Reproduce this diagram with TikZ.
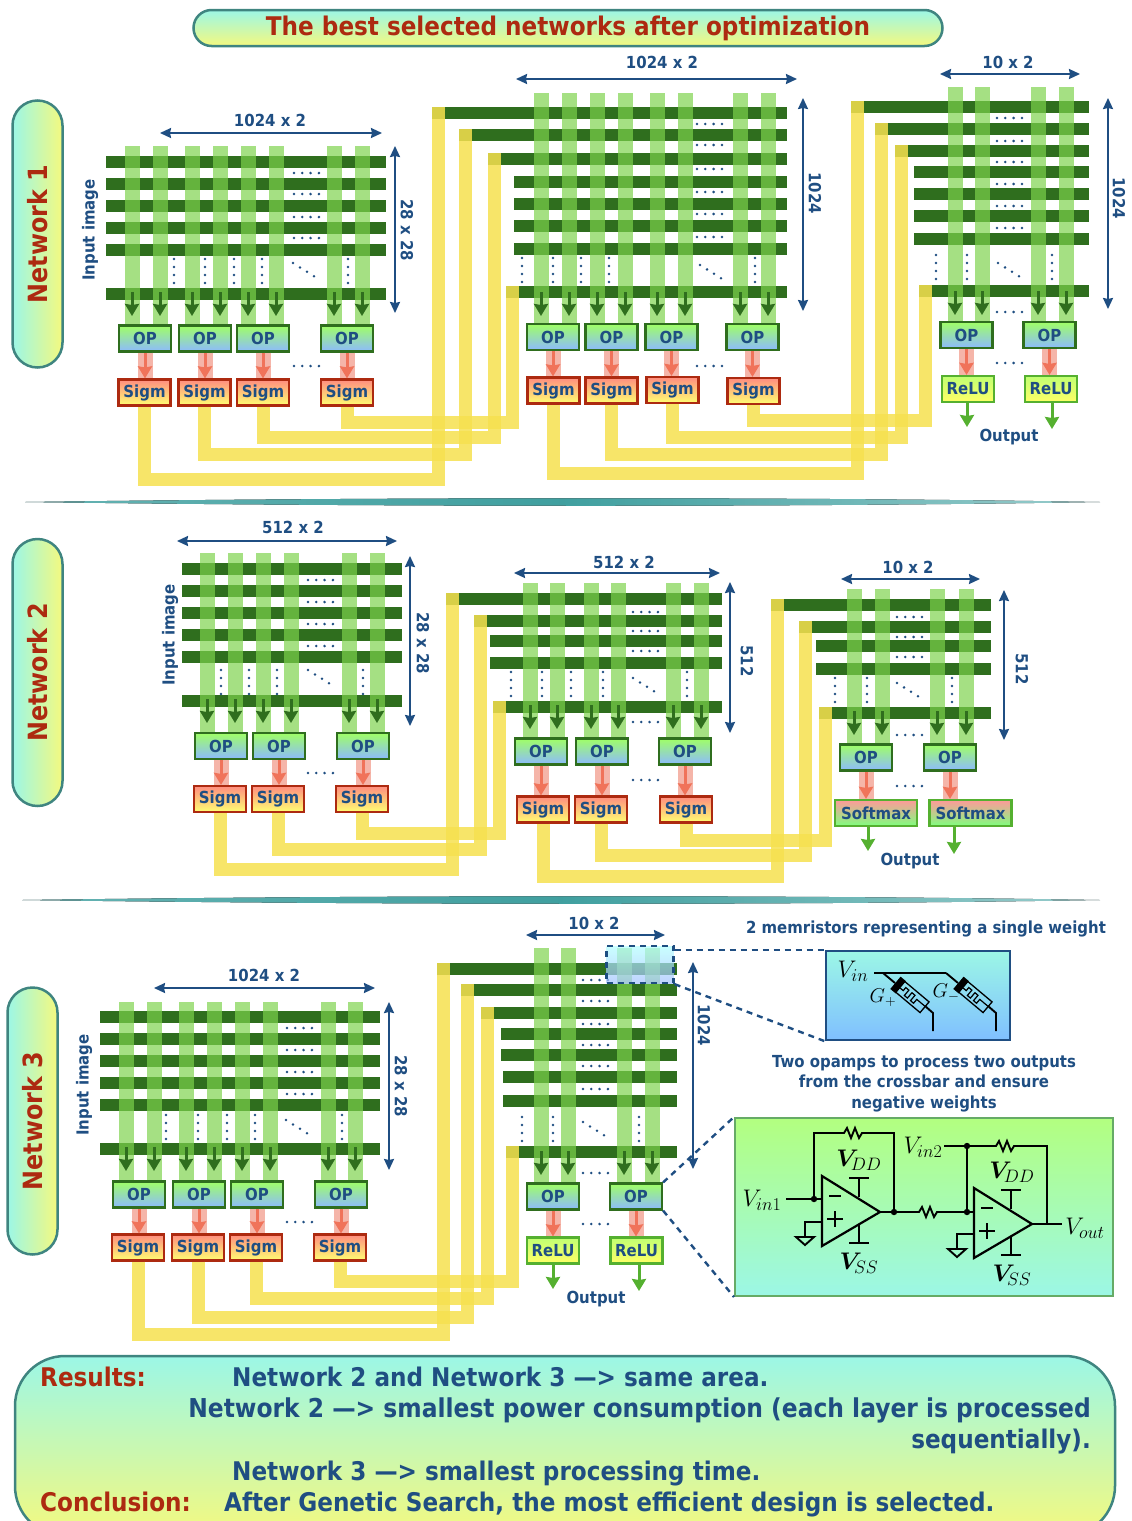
\documentclass[tikz,border=0pt]{standalone}
\usepackage{fix-cm}
\usepackage{fontspec}
\usepackage{amsmath}
\setmainfont{DejaVu Sans}[FakeStretch=0.9]
\DeclareMathSizes{24}{24}{18}{14}
\usetikzlibrary{arrows.meta, calc}
\definecolor{dimblue}{HTML}{1F4E82}
\definecolor{rowgreen}{HTML}{2F6E1E}
\definecolor{colgreen}{HTML}{7DD24C}
\definecolor{wireyel}{HTML}{F6E04F}
\definecolor{redtxt}{HTML}{AD2A10}
\definecolor{tealline}{HTML}{3F8580}
\definecolor{bandpink}{HTML}{F5B5A9}
\definecolor{arrpink}{HTML}{F0735A}
\definecolor{outgreen}{HTML}{55B030}
\definecolor{skycyan}{HTML}{9CF7E6}
\definecolor{softyel}{HTML}{F4F97F}
\newcommand{\sizefont}[1]{\fontsize{#1}{#1}\selectfont\bfseries}
\tikzset{
  rowbar/.style={fill=rowgreen, minimum height=11.5pt, inner sep=0pt, outer sep=0pt},
  colbar/.style={line width=15pt, draw=colgreen, opacity=0.69},
  dnarr/.style={-{Stealth[length=12pt,width=14pt,inset=1pt]}, line width=3pt, draw=rowgreen},
  band/.style={line width=15pt, draw=bandpink},
  pinkarr/.style={-{Stealth[length=12pt,width=14pt,inset=1pt]}, line width=3pt, draw=arrpink},
  outarr/.style={-{Stealth[length=12pt,width=14pt,inset=1pt]}, line width=3pt, draw=outgreen},
  wire/.style={line width=13pt, draw=wireyel, draw opacity=0.85},
  dimarr/.style={{Stealth[length=11pt,width=10pt,inset=1pt]}-{Stealth[length=11pt,width=10pt,inset=1pt]}, line width=2pt, draw=dimblue},
  dimlbl/.style={text=dimblue, font=\sizefont{16.6}, inner sep=0pt},
  bluebox/.style={draw=rowgreen, line width=2.2pt, minimum width=52pt, minimum height=26pt, inner sep=0pt, text=dimblue, font=\sizefont{16.6}},
  opbox/.style={bluebox, top color=green!50!lime!60!white, bottom color=cyan!40!blue!45!white},
  sigmbox/.style={bluebox, draw=redtxt, top color=orange!20!red!50!white, bottom color=yellow!55!white},
  relubox/.style={bluebox, draw=outgreen, top color=green!45!yellow!55!white, bottom color=yellow!60!white},
  softbox/.style={bluebox, minimum width=82pt, draw=outgreen, top color=red!40!white, bottom color=green!50!white},
  netbox/.style={draw=tealline, line width=2.5pt, minimum width=50pt, minimum height=267pt, rounded corners=25pt, inner sep=0pt,
    left color=skycyan, right color=softyel, text=redtxt, font=\sizefont{26.5}},
  leader/.style={draw=dimblue, line width=2.4pt, dash pattern=on 6pt off 5pt},
  ckt/.style={draw=black, line width=1.9pt},
  restext/.style={text=dimblue, font=\sizefont{25.7}, inner sep=0pt, anchor=base west},
  cktlbl/.style={inner sep=0pt, font=\fontsize{24}{24}\selectfont},
  zig/.style={insert path={-- ++(3,-5) -- ++(4,10) -- ++(4,-10) -- ++(4,10) -- ++(3,-5)}},
}
% rows of one crossbar: name, right end, list of y/left
\newcommand{\rowbars}[3]{
  \foreach \y/\l in {#3} {
    \node[rowbar, minimum width={(#2-\l)*1pt}, name=#1\y] at ({(#2+\l)/2},\y) {};
  }
}
% columns of one crossbar with their arrows
\newcommand{\colbars}[4]{
  \foreach \x in {#1} {
    \draw[colbar] (\x,#2) -- (\x,#3);
    \coordinate (ca) at (\x,#4);
    \coordinate (cb) at (\x,#4+24);
    \draw[dnarr] (ca) -- (cb);
  }
}
\newcommand{\rowdots}[2]{
  \foreach \y in {#2} { \foreach \i in {0,1,2,3} { \fill[dimblue] ({#1+\i*8.3},\y) circle (1.4pt); } }
}
\newcommand{\coldots}[2]{
  \foreach \x in {#1} { \foreach \i in {0,1,2,3} { \fill[dimblue] (\x,{#2+\i*8}) circle (1.4pt); } }
}
\newcommand{\diagdots}[2]{
  \foreach \i in {0,1,2,3} { \fill[dimblue] ({#1+\i*7},{#2+\i*4.4}) circle (1.4pt); }
}
\newcommand{\dimline}[5]{
  \coordinate (#1a) at (#2,#3);
  \coordinate (#1b) at (#4,#5);
  \draw[dimarr] (#1a) -- (#1b);
}
% one sigmoid output running to a row of the next crossbar
\newcommand{\feed}[3]{
  \coordinate (wt) at ($(#3.north west)+(6.5,0)$);
  \draw[wire] (#1.south) -- (#1.south |- 0,#2) -- (wt |- 0,#2) -- (wt);
}
% op box, box below it and the arrow between
\newcommand{\opunit}[7]{
  \node[opbox] (o#1) at (#2,#3) {OP};
  \node[#6] (s#1) at (#4,#5) {#7};
  \draw[band] (o#1.south) -- (o#1.south |- s#1.north);
  \draw[pinkarr] (o#1.south) -- (o#1.south |- s#1.north);
}
\newcommand{\memr}[2]{
  \draw[ckt] (#1,#2) -- ++(12,10);
  \draw[ckt] (#1+42,#2+33) -- ++(8,7) -- ++(0,18);
  \begin{scope}[shift={(#1+27,#2+22)}, rotate=-40]
    \draw[ckt, line width=1.3pt] (-13,-7) rectangle (19,7);
    \fill[black] (-19,-8) rectangle (-12,8);
    \draw[ckt, line width=1.2pt] (-12,1) -- (-8,1) -- (-8,-3) -- (-4,-3) -- (-4,4) -- (0,4) -- (0,-3) -- (4,-3) -- (4,4) -- (8,4) -- (8,-1) -- (19,-1);
  \end{scope}
}
\newcommand{\opamp}[2]{
  \draw[ckt, line width=2.2pt] (#1,#2) -- (#1+58,#2+36) -- (#1,#2+70) -- cycle;
  \draw[ckt] (#1+7,#2+20) -- (#1+19,#2+20);
  \draw[ckt] (#1+5,#2+43) -- (#1+21,#2+43) (#1+13,#2+35) -- (#1+13,#2+51);
  \draw[ckt] (#1+37,#2+21) -- (#1+37,#2+2) (#1+27,#2+2) -- (#1+47,#2+2);
  \draw[ckt] (#1+37,#2+49) -- (#1+37,#2+67) (#1+27,#2+67) -- (#1+47,#2+67);
  \draw[ckt] (#1,#2+46) -- (#1-17,#2+46) -- (#1-17,#2+61);
  \draw[ckt] (#1-26,#2+61) -- (#1-8,#2+61) -- (#1-17,#2+69) -- cycle;
}
\begin{document}
\begin{tikzpicture}[x=1pt, y=-1pt]
  \useasboundingbox (0,0) rectangle (1132,1521);

  % title
  \node[draw=tealline, line width=2.5pt, minimum width=749pt, minimum height=36pt, rounded corners=18pt, inner sep=0pt,
    top color=skycyan, bottom color=softyel, text=redtxt, font=\sizefont{25.7}] (title) at (568,28) {\raisebox{-4pt}{The best selected networks after optimization}};

  % side labels
  \node[netbox] (net1) at (37.5,234) {\rotatebox{90}{Network 1}};
  \node[netbox] (net2) at (37.5,672.5) {\rotatebox{90}{Network 2}};
  \node[netbox] (net3) at (32.5,1121) {\rotatebox{90}{Network 3}};

  % separators
  \fill[left color=teal!60, right color=teal!40, middle color=teal!75] (25,502) .. controls (400,497) and (800,497) .. (1100,502) .. controls (800,507) and (400,507) .. (25,502);
  \fill[left color=teal!60, right color=teal!40, middle color=teal!75] (22,900) .. controls (400,895) and (800,895) .. (1100,900) .. controls (800,905) and (400,905) .. (22,900);

  %%% network 1
  \rowbars{ra}{386}{162/106,184/106,206/106,228/106,250/106,294/106}
  \colbars{132,160,192,220,248,276,334,362}{146}{325}{292}
  \rowdots{294}{173,194,217,238,366}
  \coldots{174,205,234,262,348}{259}
  \diagdots{293}{263}
  \opunit{a1}{145}{338.5}{144.5}{392.5}{sigmbox}{Sigm}
  \opunit{a2}{205}{338.5}{204.5}{392.5}{sigmbox}{Sigm}
  \opunit{a3}{263}{338.5}{263}{392.5}{sigmbox}{Sigm}
  \opunit{a4}{347}{338.5}{347}{392.5}{sigmbox}{Sigm}
  \node[dimlbl] (la) at (270,120) {1024 x 2};
  \dimline{da}{160}{133}{382}{133}
  \dimline{va}{395}{146}{395}{313}
  \node[dimlbl, rotate=-90] (lva) at (407,230) {28 x 28};
  \node[dimlbl, rotate=90] (ina) at (90,230) {Input image};

  \rowbars{rb}{787}{113/432,135/459,159/488,182/514,204/514,226/514,249/514,292/506}
  \colbars{541,569,597,625,657,685,740,768}{93}{323}{292}
  \rowdots{697}{124,145,169,192,214,237,366}
  \coldots{522,553,581,609,755}{258}
  \diagdots{700}{265}
  \opunit{b1}{553}{337}{553.5}{390.5}{sigmbox}{Sigm}
  \opunit{b2}{611.5}{337}{611.5}{390.5}{sigmbox}{Sigm}
  \opunit{b3}{671.5}{337}{672.5}{390}{sigmbox}{Sigm}
  \opunit{b4}{752.5}{337}{753.5}{391}{sigmbox}{Sigm}
  \node[dimlbl] (lb) at (662,62) {1024 x 2};
  \dimline{db}{516}{79}{797}{79}
  \dimline{vb}{803}{98}{803}{311}
  \node[dimlbl, rotate=-90] (lvb) at (815,193) {1024};

  \rowbars{rc}{1089}{107/851,129/875,151/895,172/914,194/914,216/914,239/914,291/919}
  \colbars{955,982,1038,1066}{87}{321}{291}
  \rowdots{997}{118,141,162,184,206,228,312,363}
  \coldots{936,967,1052}{255}
  \diagdots{998}{263}
  \opunit{c1}{966.5}{335}{968}{389}{relubox}{ReLU}
  \opunit{c2}{1049.5}{335}{1051}{389}{relubox}{ReLU}
  \coordinate (ec1) at (967,427);
  \coordinate (ec2) at (1052,429);
  \draw[outarr] (sc1.south -| ec1) -- (ec1);
  \draw[outarr] (sc2.south -| ec2) -- (ec2);
  \node[dimlbl] (outc) at (1009,437) {Output};
  \node[dimlbl] (lc) at (1008,62) {10 x 2};
  \dimline{dc}{940}{74}{1080}{74}
  \dimline{vc}{1108}{98}{1108}{309}
  \node[dimlbl, rotate=-90] (lvc) at (1119,198) {1024};

  \feed{sa1}{479}{rb113}
  \feed{sa2}{454}{rb135}
  \feed{sa3}{437}{rb159}
  \feed{sa4}{422}{rb292}
  \feed{sb1}{473}{rc107}
  \feed{sb2}{454}{rc129}
  \feed{sb3}{437}{rc151}
  \feed{sb4}{420}{rc291}

  %%% network 2
  \rowbars{rd}{402}{569/182,591/182,613/182,635/182,657/182,701/182}
  \colbars{207,235,263,291,349,377}{553}{732}{699}
  \rowdots{308}{580,602,624,646,773}
  \coldots{221,249,277,363}{670}
  \diagdots{308}{670}
  \opunit{d1}{221}{746}{220}{799}{sigmbox}{Sigm}
  \opunit{d2}{279}{746}{278}{799}{sigmbox}{Sigm}
  \opunit{d3}{363}{746}{362}{799}{sigmbox}{Sigm}
  \node[dimlbl] (ld) at (293,527) {512 x 2};
  \dimline{dd}{177}{541}{397}{541}
  \dimline{vd}{410}{556}{410}{726}
  \node[dimlbl, rotate=-90] (lvd) at (423,643) {28 x 28};
  \node[dimlbl, rotate=90] (ind) at (170,635) {Input image};

  \rowbars{re}{722}{599/446,621/474,641/490,663/490,707/493}
  \colbars{530,557,591,618,673,701}{583}{738}{705}
  \rowdots{633}{612,631,651,722,780}
  \coldots{511,542,571,603,687}{672}
  \diagdots{633}{678}
  \opunit{e1}{541}{751.5}{543}{809.5}{sigmbox}{Sigm}
  \opunit{e2}{602}{751.5}{601}{809.5}{sigmbox}{Sigm}
  \opunit{e3}{685}{751.5}{686}{809.5}{sigmbox}{Sigm}
  \node[dimlbl] (le) at (624,562) {512 x 2};
  \dimline{de}{514}{573}{720}{573}
  \dimline{ve}{730}{582}{730}{733}
  \node[dimlbl, rotate=-90] (lve) at (747,661) {512};

  \rowbars{rf}{991}{605/771,627/799,646/816,669/816,713/819}
  \colbars{854,882,937,966}{589}{744}{711}
  \rowdots{897}{617,637,657,735,786}
  \coldots{835,867,952}{678}
  \diagdots{897}{683}
  \opunit{f1}{866}{757.5}{876}{813}{softbox}{Softmax}
  \opunit{f2}{950}{757.5}{970.5}{813}{softbox}{Softmax}
  \coordinate (ef1) at (868,851);
  \coordinate (ef2) at (954,854);
  \draw[outarr] (sf1.south -| ef1) -- (ef1);
  \draw[outarr] (sf2.south -| ef2) -- (ef2);
  \node[dimlbl] (outf) at (910,861) {Output};
  \node[dimlbl] (lf) at (908,567) {10 x 2};
  \dimline{df}{841}{579}{980}{579}
  \dimline{vf}{1004}{590}{1004}{740}
  \node[dimlbl, rotate=-90] (lvf) at (1022,669) {512};

  \feed{sd1}{869}{re599}
  \feed{sd2}{849}{re621}
  \feed{sd3}{833}{re707}
  \feed{se1}{876}{rf605}
  \feed{se2}{855}{rf627}
  \feed{se3}{840}{rf713}

  %%% network 3
  \rowbars{rg}{380}{1017/100,1039/100,1061/100,1083/100,1105/100,1149/100}
  \colbars{126,154,186,214,242,270,328,355}{1002}{1181}{1147}
  \rowdots{287}{1028,1050,1072,1094,1222}
  \coldots{166,198,227,255,342}{1115}
  \diagdots{286}{1120}
  \opunit{g1}{139}{1194.5}{138}{1247.5}{sigmbox}{Sigm}
  \opunit{g2}{199}{1194.5}{198}{1247.5}{sigmbox}{Sigm}
  \opunit{g3}{257}{1194.5}{256}{1247.5}{sigmbox}{Sigm}
  \opunit{g4}{341}{1194.5}{340}{1247.5}{sigmbox}{Sigm}
  \node[dimlbl] (lg) at (264,975) {1024 x 2};
  \dimline{dg}{154}{988}{375}{988}
  \dimline{vg}{389}{1002}{389}{1170}
  \node[dimlbl, rotate=-90] (lvg) at (401,1086) {28 x 28};
  \node[dimlbl, rotate=90] (ing) at (84,1085) {Input image};

  \rowbars{rh}{677}{969/437,990/461,1013/481,1034/501,1055/501,1077/503,1101/503,1152/506}
  \colbars{541,568,624,652}{948}{1183}{1151}
  \rowdots{583}{980,1001,1024,1045,1066,1089,1173,1224}
  \coldots{522,553,639}{1117}
  \diagdots{583}{1122}
  \opunit{h1}{553}{1196.5}{553}{1250.5}{relubox}{ReLU}
  \opunit{h2}{636}{1196.5}{636.5}{1250.5}{relubox}{ReLU}
  \coordinate (eh1) at (553,1289);
  \coordinate (eh2) at (639,1291);
  \draw[outarr] (sh1.south -| eh1) -- (eh1);
  \draw[outarr] (sh2.south -| eh2) -- (eh2);
  \node[dimlbl] (outh) at (596,1299) {Output};
  \node[dimlbl] (lh) at (594,923) {10 x 2};
  \dimline{dh}{526}{935}{665}{935}
  \dimline{vh}{693}{962}{693}{1169}
  \node[dimlbl, rotate=-90] (lvh) at (704,1025) {1024};

  \feed{sg1}{1334}{rh969}
  \feed{sg2}{1317}{rh990}
  \feed{sg3}{1298}{rh1013}
  \feed{sg4}{1281}{rh1152}

  % weight detail
  \node[draw=dimblue, line width=2.4pt, dash pattern=on 6pt off 5pt, minimum width=67pt, minimum height=37pt, inner sep=0pt,
    top color=cyan!30, bottom color=cyan!30!blue!35, fill opacity=0.7, draw opacity=1] (hl) at (640,964.5) {};
  \node[draw=dimblue, line width=2.4pt, minimum width=184pt, minimum height=89pt, inner sep=0pt,
    top color=skycyan, bottom color=cyan!50!blue!50!white] (mem) at (918,995.5) {};
  \node[dimlbl] (memt) at (926,929) {2 memristors representing a single weight};
  \draw[leader] (hl.east |- mem.north west) -- (mem.north west);
  \draw[leader] (hl.south east) -- (mem.south west);
  \draw[ckt] (874,973) -- (946,973);
  \memr{883}{973}
  \memr{946}{973}
  \node[cktlbl] (vin) at (853,971) {$V_{in}$};
  \node[cktlbl, font=\fontsize{20}{20}\selectfont] (gp) at (883,998) {$G_{+}$};
  \node[cktlbl, font=\fontsize{20}{20}\selectfont] (gm) at (946,993) {$G_{-}$};

  % opamp detail
  \node[dimlbl, align=center] (ampt) at (924,1083.5) {Two opamps to process two outputs\\[4pt] from the crossbar and ensure\\[4pt] negative weights};
  \node[draw=green!45!black!60, line width=2pt, minimum width=378pt, minimum height=178pt, inner sep=0pt,
    top color=green!60!yellow!50!white, bottom color=skycyan] (amp) at (924,1207) {};
  \draw[leader] (oh2.north east) -- (amp.north west);
  \draw[leader] (oh2.south east) -- (amp.south west);
  \opamp{822}{1176}
  \opamp{974}{1188}
  \draw[ckt] (786,1199) -- (822,1199);
  \draw[ckt] (814,1199) -- (814,1133) -- (844,1133) [zig] -- (894,1133) -- (894,1212);
  \draw[ckt] (880,1212) -- (919,1212) [zig] -- (974,1212);
  \draw[ckt] (967,1212) -- (967,1146);
  \draw[ckt] (944,1146) -- (996,1146) [zig] -- (1047,1146) -- (1047,1224);
  \draw[ckt] (1032,1224) -- (1062,1224);
  \foreach \x/\y in {814/1199,894/1212,967/1212,967/1146} { \fill[black] (\x,\y) circle (3.2pt); }
  \node[cktlbl] (vi1) at (762,1200) {$V_{in1}$};
  \node[cktlbl] (vi2) at (923,1147) {$V_{in2}$};
  \node[cktlbl] (vou) at (1085,1228) {$V_{out}$};
  \node[cktlbl] (vd1) at (859,1160) {$\boldsymbol{V}_{\mkern-8mu DD}$};
  \node[cktlbl] (vs1) at (859,1263) {$\boldsymbol{V}_{\mkern-8mu SS}$};
  \node[cktlbl] (vd2) at (1012,1172) {$\boldsymbol{V}_{\mkern-8mu DD}$};
  \node[cktlbl] (vs2) at (1012,1275) {$\boldsymbol{V}_{\mkern-8mu SS}$};

  % summary
  \node[draw=tealline, line width=2.5pt, minimum width=1100pt, minimum height=180pt, rounded corners=50pt, inner sep=0pt,
    top color=skycyan, bottom color=softyel] (summ) at (565,1446) {};
  \node[restext, text=redtxt] (t1) at (40,1386) {Results:};
  \node[restext] (t2) at (232,1386) {Network 2 and Network 3 —> same area.};
  \node[restext, anchor=base east, font=\sizefont{26}] (t3) at (1091,1417) {Network 2 —> smallest power consumption (each layer is processed};
  \node[restext, anchor=base east] (t4) at (1091,1448) {sequentially).};
  \node[restext] (t5) at (232,1480) {Network 3 —> smallest processing time.};
  \node[restext, text=redtxt] (t6) at (40,1511) {Conclusion:};
  \node[restext] (t7) at (224,1511) {After Genetic Search, the most efficient design is selected.};
\end{tikzpicture}
\end{document}
